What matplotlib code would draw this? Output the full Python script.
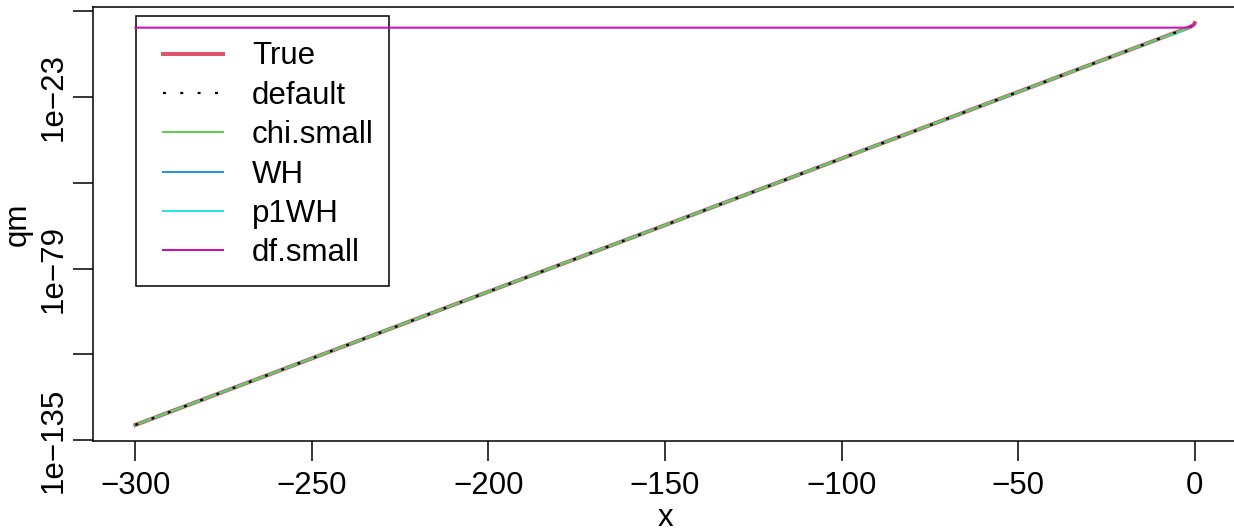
import numpy as np
import matplotlib
matplotlib.use('Agg')
import matplotlib.pyplot as plt
from matplotlib.patches import Rectangle

# valores (eixo y em escala log)
x = [-300, -250, -200, -150, -100, -50, -20, -10, -5, -4, -3, -2, -1, -0.5, -0.1, 0]
true_q = [1.0e-130, 5e-109, 2.8e-87, 1.4e-65, 7.4e-44, 3.9e-22, 4.1e-9, 9.1e-5,
          1.35e-2, 3.7e-2, 0.10, 0.28, 0.92, 1.9, 4.7, 11]
default_q = [1.0e-130, 5e-109, 2.8e-87, 1.4e-65, 7.4e-44, 3.9e-22, 4.1e-9, 9.1e-5,
             1.35e-2, 3.7e-2, 0.10, 0.28, 0.92, 1.9, 4.7, 11]
chi_small_q = [1.0e-130, 5e-109, 2.8e-87, 1.4e-65, 7.4e-44, 3.9e-22, 4.1e-9, 9.1e-5,
               1.35e-2, 3.7e-2, 0.10, 0.28, 0.92, 1.9, 4.7, 11]
wh_q = [1.0e-130, 5e-109, 2.8e-87, 1.4e-65, 7.4e-44, 3.9e-22, 4.1e-9, 9.1e-5,
        1.2e-2, 3.3e-2, 0.09, 0.25, 0.90, 1.9, 4.7, 11]
p1wh_q = [1.0e-130, 5e-109, 2.8e-87, 1.4e-65, 7.4e-44, 3.9e-22, 4.1e-9, 9.1e-5,
          6e-3, 2e-2, 0.07, 0.24, 0.90, 1.9, 4.7, 11]
df_small_q = [0.35, 0.35, 0.35, 0.35, 0.35, 0.35, 0.35, 0.35,
              0.35, 0.35, 0.35, 0.40, 0.95, 1.9, 4.7, 11]

labels = ['True', 'default', 'chi.small', 'WH', 'p1WH', 'df.small']
y_ticks = [1e5, 1e-23, 1e-51, 1e-79, 1e-107, 1e-135]
y_tick_labels = ['', '1e\u221223', '', '1e\u221279', '', '1e\u2212135']
x_ticks = [-300, -250, -200, -150, -100, -50, 0]

plt.rcParams['font.family'] = ['Liberation Sans', 'DejaVu Sans']
plt.rcParams['font.size'] = 22.5

W, H = 1234, 531
fig = plt.figure(figsize=(W / 100, H / 100), dpi=100)
# caixa do grafico em pixels (a borda direita fica um pouco fora da imagem)
ax = fig.add_axes([93 / W, 90 / H, (1237 - 93) / W, 434 / H])

l_true, = ax.plot(x, true_q, color='#DF536B', lw=2.9, zorder=2)
l_wh, = ax.plot(x, wh_q, color='#2297E6', lw=1.44, zorder=3)
l_p1, = ax.plot(x, p1wh_q, color='#28E2E5', lw=1.44, zorder=4)
l_chi, = ax.plot(x, chi_small_q, color='#61D04F', lw=1.44, zorder=5)
l_def, = ax.plot(x, default_q, color='black', lw=1.6, linestyle=(0, (1.3, 6.5)), zorder=6)
l_df, = ax.plot(x, df_small_q, color='#CD0BBC', lw=1.44, zorder=8)

ax.set_yscale('log')
# limites como no R: 4% de folga em cada lado
lo, hi = np.log10(min(true_q)), np.log10(max(true_q))
pad = 0.04 * (hi - lo)
ax.set_ylim(10 ** (lo - pad), 10 ** (hi + pad))
ax.set_xlim(min(x) - 0.04 * (max(x) - min(x)), max(x) + 0.04 * (max(x) - min(x)))

ax.set_yticks(y_ticks)
ax.set_yticklabels(y_tick_labels, rotation=90, va='center')
ax.yaxis.set_minor_locator(matplotlib.ticker.NullLocator())
ax.set_xticks(x_ticks)
ax.tick_params(axis='both', direction='out', length=14.4, width=1.1)
ax.tick_params(axis='x', pad=7.5)
ax.tick_params(axis='y', pad=3)
for s in ax.spines.values():
    s.set_linewidth(1.1)

fig.text(665 / W, 1 - 526 / H, 'x', ha='center', va='baseline')
fig.text(18 / W, 1 - 224 / H, 'qm', ha='center', va='center', rotation=90)

# legenda sem moldura + retangulo desenhado a parte
leg = ax.legend([l_true, l_def, l_chi, l_wh, l_p1, l_df], labels,
                loc='upper left', bbox_to_anchor=(163 / W, 1 - 41.5 / H),
                bbox_transform=fig.transFigure, frameon=False,
                borderpad=0, borderaxespad=0, handlelength=1.92,
                handletextpad=0.93, labelspacing=0.3)
leg.set_zorder(7)
ax.add_patch(Rectangle((136 / W, 1 - 286 / H), (389 - 136) / W, (286 - 16) / H,
                       transform=fig.transFigure, fill=False, edgecolor='black',
                       lw=1.1, clip_on=False, zorder=7))

fig.savefig('out.png', dpi=100)
